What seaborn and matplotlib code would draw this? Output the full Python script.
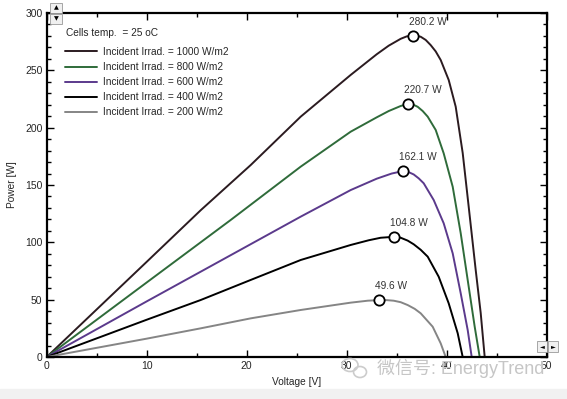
import matplotlib.pyplot as plt
import pandas as pd
import seaborn as sns
from matplotlib.patches import Rectangle, Ellipse
from matplotlib.ticker import MultipleLocator

sns.set_style("ticks")
plt.rcParams['font.family'] = ['Liberation Sans', 'Noto Sans CJK SC', 'DejaVu Sans']

# values
irradiance = [1000, 800, 600, 400, 200]

v1000 = [0, 5, 10, 15.4, 20.4, 25.4, 30.4, 33.0, 34.2, 35.4, 36.0, 36.6, 37.0, 37.4, 37.9, 38.4,
         38.9, 39.4, 40.2, 40.9, 41.6, 42.2, 42.9, 43.4, 43.8]
p1000 = [0, 41.5, 83, 128, 167.4, 209.6, 246, 264, 271.5, 277.5, 279.6, 280.2, 280.1, 279.3, 276.5, 272,
         266.5, 259, 241.6, 218.3, 177.9, 131, 75.9, 38.4, 0]

v800 = [0, 10, 18.4, 25.4, 30.4, 33.0, 34.2, 35.4, 36.1, 36.6, 37.1, 37.6, 38.1, 38.9, 39.7, 40.6,
        41.4, 42.2, 42.8, 43.3]
p800 = [0, 65, 119.5, 166, 196.5, 209, 214.5, 218.9, 220.7, 220.3, 218.2, 214.5, 209.6, 198, 177.6, 148.5,
        108, 61.3, 26.4, 0]

v600 = [0, 10, 15.4, 25.4, 30.4, 33.0, 34.5, 35.6, 36.2, 36.7, 37.2, 37.7, 38.7, 39.7, 40.6, 41.4,
        42.1, 42.5]
p600 = [0, 48.5, 74.4, 122.4, 145.6, 155.5, 160, 162.1, 161.2, 159.2, 155.8, 151.5, 136.9, 116.6, 90.4, 55.6,
        23.5, 0]

v400 = [0, 10, 15.4, 20.4, 25.4, 30.4, 32.2, 33.4, 34.7, 35.4, 36.1, 36.7, 37.4, 38.1, 39.2, 40.2,
        41.1, 41.6]
p400 = [0, 32.5, 49.7, 67.2, 84.6, 97.7, 101.8, 104.0, 104.8, 104.0, 101.5, 98.3, 93.5, 87.5, 70, 46.8,
        20.7, 0]

v200 = [0, 10, 15.4, 20.4, 25.4, 30.4, 32.1, 33.2, 34.0, 34.7, 35.4, 36.1, 36.8, 37.4, 38.6, 39.4, 39.9]
p200 = [0, 16, 25, 33.7, 41, 47.4, 49.1, 49.6, 49.6, 49.1, 47.8, 45.3, 42.0, 38.1, 26.4, 11.9, 0]

mpp_v = [36.6, 36.1, 35.6, 34.7, 33.2]
mpp_p = [280.2, 220.7, 162.1, 104.8, 49.6]

colors = ['#2b1b20', '#2f6b3a', '#5b3a8c', '#000000', '#858585']

frames = []
for irr, v, p in zip(irradiance, [v1000, v800, v600, v400, v200], [p1000, p800, p600, p400, p200]):
    frames.append(pd.DataFrame({'Voltage': v, 'Power': p, 'Irradiance': irr}))
df = pd.concat(frames, ignore_index=True)

W, H = 567, 399
fig = plt.figure(figsize=(W / 100, H / 100), dpi=100)
fig.patches.append(Rectangle((0, 0), 1, 10 / H, transform=fig.transFigure,
                             color='#f1f1f1', zorder=0))
ax = fig.add_axes([46.7 / W, 42 / H, 500 / W, 344 / H])

for irr, col in zip(irradiance, colors):
    sub = df[df['Irradiance'] == irr]
    sns.lineplot(data=sub, x='Voltage', y='Power', color=col, linewidth=1.4,
                 sort=False, estimator=None, ax=ax,
                 label=f"Incident Irrad. = {irr} W/m2")

sns.scatterplot(x=mpp_v, y=mpp_p, s=55, color='white', edgecolor='black',
                linewidth=1.3, zorder=5, ax=ax)
for v, p in zip(mpp_v, mpp_p):
    ax.annotate(f"{p:.1f} W", (v, p), xytext=(-2.5, 10), textcoords='offset points',
                ha='left', va='center', fontsize=7.3, color='#333333')

ax.set_xlim(0, 50)
ax.set_ylim(0, 300)
ax.xaxis.set_major_locator(MultipleLocator(10))
ax.xaxis.set_minor_locator(MultipleLocator(5))
ax.yaxis.set_major_locator(MultipleLocator(50))
ax.yaxis.set_minor_locator(MultipleLocator(10))
ax.tick_params(which='both', direction='in', top=True, right=True,
               labelsize=7.5, pad=3, color='black')
ax.tick_params(which='major', length=5, width=1)
ax.tick_params(which='minor', length=3, width=1)
for s in ax.spines.values():
    s.set_linewidth(1.6)
    s.set_color('black')

ax.set_xlabel('Voltage [V]', fontsize=7.3, labelpad=4)
ax.set_ylabel('Power [W]', fontsize=7.3, labelpad=6)

# legend title sits a bit higher than the entries in the original
ax.text((66 - 46.7) / 500, (357 - 33) / 344, 'Cells temp.  = 25 oC',
        transform=ax.transAxes, fontsize=7.3, ha='left', va='center')
ax.legend(loc='upper left', bbox_to_anchor=(0.036, (357 - 47) / 344), frameon=False,
          fontsize=7.3, handlelength=3.2, handletextpad=0.6,
          labelspacing=0.5, borderpad=0, borderaxespad=0)

# scroll buttons of the original screenshot
for (x0, y0, w, h, sym) in [(50, 3, 12, 10, '▲'), (50, 14, 12, 10, '▼'),
                            (537, 341, 10, 11, '◄'), (548, 341, 10, 11, '►')]:
    fig.patches.append(Rectangle((x0 / W, 1 - (y0 + h) / H), w / W, h / H,
                                 transform=fig.transFigure, facecolor='#f0f0f0',
                                 edgecolor='#999999', linewidth=0.6, zorder=6))
    fig.text((x0 + w / 2) / W, 1 - (y0 + h / 2) / H, sym, fontsize=4.5,
             ha='center', va='center', color='black', zorder=7,
             family=['DejaVu Sans'])

# watermark with a rough wechat icon
for (cx, cy, ew, eh) in [(350, 365, 16, 13), (360, 372, 13, 11)]:
    fig.patches.append(Ellipse((cx / W, 1 - cy / H), ew / W, eh / H,
                               transform=fig.transFigure, facecolor='none',
                               edgecolor='#cccccc', linewidth=1.2, zorder=10))
fig.text(377 / W, 1 - 368 / H, '微信号: EnergyTrend', fontsize=13,
         color='#c6c6c6', ha='left', va='center', zorder=10)

plt.savefig('out.png', dpi=100)
